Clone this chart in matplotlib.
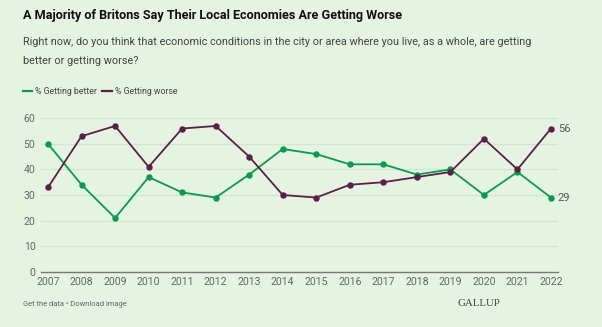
import matplotlib.pyplot as plt

years = list(range(2007, 2023))
better = [50, 34, 21, 37, 31, 29, 38, 48, 46, 42, 42, 38, 40, 30, 39, 29]
worse = [33, 53, 57, 41, 56, 57, 45, 30, 29, 34, 35, 37, 39, 52, 40, 56]
yticks = [0, 10, 20, 30, 40, 50, 60]

BG = "#e5f3e1"
GREEN = "#0a9a4e"
PURPLE = "#5b1f48"
GREY = "#666666"

plt.rcParams["font.family"] = ["Roboto", "DejaVu Sans"]

W, H = 602, 327
fig = plt.figure(figsize=(W / 100, H / 100), dpi=100, facecolor=BG)


def px(x, y):
    return x / W, 1 - y / H


# axes box in pixels
x0, x1, ytop, ybot = 41, 558, 118.3, 271.7
ax = fig.add_axes([x0 / W, 1 - ybot / H, (x1 - x0) / W, (ybot - ytop) / H])
ax.set_facecolor(BG)

ax.plot(years, better, color=GREEN, lw=1.3, marker="o", ms=3.6, zorder=3)
ax.plot(years, worse, color=PURPLE, lw=1.3, marker="o", ms=3.6, zorder=3)

ax.set_xlim(2006.79, 2022.21)
ax.set_ylim(0, 60)
ax.set_yticks(yticks)
ax.set_xticks(years)
ax.tick_params(axis="both", length=0, labelsize=7.6, labelcolor=GREY)
ax.tick_params(axis="x", pad=4)
ax.tick_params(axis="y", pad=4)
ax.grid(axis="y", color="#d3e5cf", lw=0.9, zorder=0)
for s in ["top", "right", "left"]:
    ax.spines[s].set_visible(False)
ax.spines["bottom"].set_color("#777777")
ax.spines["bottom"].set_linewidth(1)

ax.annotate(str(worse[-1]), (years[-1], worse[-1]), xytext=(5, 0),
            textcoords="offset points", va="center", ha="left",
            fontsize=8, color="#555555", annotation_clip=False)
ax.annotate(str(better[-1]), (years[-1], better[-1]), xytext=(5, 0),
            textcoords="offset points", va="center", ha="left",
            fontsize=8, color="#555555", annotation_clip=False)

fig.text(*px(23, 15), "A Majority of Britons Say Their Local Economies Are Getting Worse",
         fontsize=9.1, fontweight="bold", color="#111111", va="center", ha="left")
fig.text(*px(23, 42), "Right now, do you think that economic conditions in the city or area where you live, as a whole, are getting",
         fontsize=7.8, color="#444444", va="center", ha="left")
fig.text(*px(23, 61), "better or getting worse?",
         fontsize=7.8, color="#444444", va="center", ha="left")

# legend
fig.lines.append(plt.Line2D([23 / W, 32 / W], [1 - 91 / H] * 2, color=GREEN, lw=1.6,
                            transform=fig.transFigure))
fig.text(*px(35, 91), "% Getting better", fontsize=6.3, color="#444444", va="center")
fig.lines.append(plt.Line2D([102 / W, 112 / W], [1 - 91 / H] * 2, color=PURPLE, lw=1.6,
                            transform=fig.transFigure))
fig.text(*px(115, 91), "% Getting worse", fontsize=6.3, color="#444444", va="center")

fig.text(*px(23, 304), "Get the data \u2022 Download image", fontsize=5.4, color="#666666", va="center")
fig.text(*px(500, 303), "GALLUP", fontsize=7.8, color="#444444", va="center", ha="right",
         family="Liberation Serif")

fig.savefig("out.png", dpi=100, facecolor=BG)
